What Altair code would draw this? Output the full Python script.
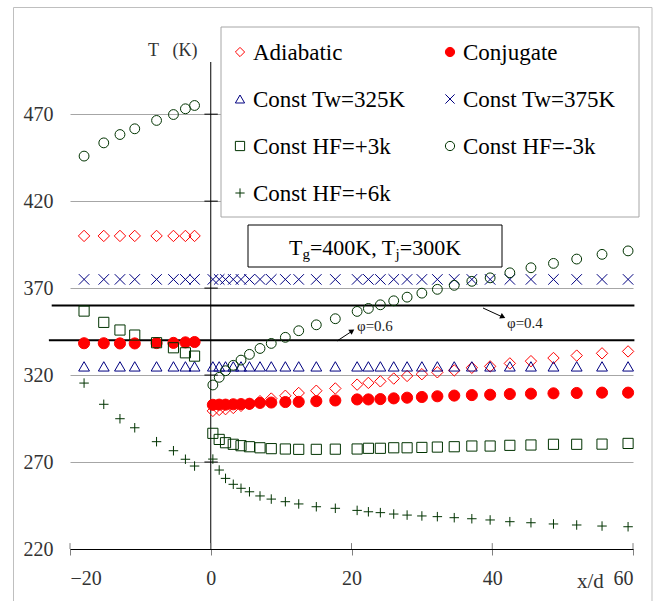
import altair as alt
import pandas as pd

# ---------------- data ----------------
series = ["Adiabatic", "Conjugate", "Const Tw=325K", "Const Tw=375K",
          "Const HF=+3k", "Const HF=-3k", "Const HF=+6k"]

up_x = [-18.0, -15.2, -12.9, -10.8, -7.7, -5.3, -3.6, -2.3]
down_x = [0.3, 1.2, 2.1, 3.2, 4.3, 5.5, 7.0, 8.6, 10.6, 12.5, 15.0, 17.7,
          20.8, 22.4, 24.1, 26.0, 27.9, 30.0, 32.2, 34.6, 37.1, 39.7, 42.5,
          45.5, 48.7, 52.0, 55.6, 59.3]

adiabatic_up = [400, 400, 400, 400, 400, 400, 400, 400]
adiabatic_down = [299.4, 300.0, 300.4, 301.1, 302.3, 303.2, 305.0, 306.5, 308.1,
                  309.7, 311.0, 312.3, 314.5, 315.5, 316.4, 318.0, 319.5, 320.5,
                  321.6, 322.7, 324.2, 325.0, 326.7, 328.0, 329.8, 331.2, 332.5, 333.6]

conjugate_up = [338.3, 338.3, 338.2, 338.2, 338.4, 338.5, 338.8, 339.0]
conjugate_down = [302.9, 303.0, 303.0, 303.2, 303.3, 303.5, 304.0, 304.2, 304.5,
                  304.6, 305.0, 305.4, 306.0, 306.0, 306.2, 306.6, 307.0, 307.4,
                  307.8, 308.2, 308.5, 308.7, 309.1, 309.3, 309.5, 309.7, 309.9, 309.9]

tw325_up = [325, 325, 325, 325, 325, 325, 325, 325]
tw325_down = [325, 325, 325, 325, 325, 325, 325, 325, 325, 325, 325, 325, 325, 325,
              325, 325, 325, 325, 325, 325, 325, 325, 325, 325, 325, 325, 325, 325]

tw375_up = [375, 375, 375, 375, 375, 375, 375, 375]
tw375_down = [375, 375, 375, 375, 375, 375, 375, 375, 375, 375, 375, 375, 375, 375,
              375, 375, 375, 375, 375, 375, 375, 375, 375, 375, 375, 375, 375, 375]

hfp3_up = [356.8, 350.3, 345.9, 343.0, 338.6, 335.7, 332.8, 330.9]
hfp3_down = [286.5, 283.0, 281.1, 280.2, 279.4, 278.8, 278.2, 277.7, 277.5, 277.3,
             277.3, 277.4, 277.5, 277.9, 277.9, 278.2, 278.2, 278.4, 278.6, 278.8,
             279.2, 279.2, 279.6, 279.8, 280.2, 280.2, 280.3, 280.7]

hfm3_up = [445.9, 453.5, 458.3, 461.6, 466.4, 469.8, 473.1, 475.0]
hfm3_down = [314.3, 318.7, 322.5, 325.6, 328.6, 331.9, 335.3, 338.2, 341.7, 345.5,
             348.9, 352.4, 356.6, 358.3, 360.4, 362.7, 364.8, 367.1, 369.3, 371.6,
             373.9, 375.9, 378.8, 381.7, 384.2, 386.7, 389.4, 391.4]

hfp6_up = [315.4, 303.2, 294.9, 289.7, 281.7, 276.5, 271.6, 267.7]
hfp6_down = [271.7, 265.4, 260.6, 257.2, 254.9, 252.9, 250.5, 248.7, 247.2, 245.9,
             244.3, 243.4, 242.2, 241.4, 240.9, 240.1, 239.5, 239.0, 238.6, 238.0,
             237.4, 236.7, 235.7, 235.1, 234.4, 233.8, 233.2, 232.8]

y_ticks = [220, 270, 320, 370, 420, 470]
x_ticks = [-20, 0, 20, 40, 60]
phi_T = [340, 360]

# ---------------- styles ----------------
RED = "#ff0000"
NAVY = "#000080"
GREEN = "#003300"
shapes = ["diamond", "circle", "triangle-up", "M-1,-1L1,1M1,-1L-1,1",
          "square", "circle", "M-1,0L1,0M0,-1L0,1"]
strokes = [RED, RED, NAVY, NAVY, GREEN, GREEN, GREEN]
fills = ["transparent", RED, "transparent", "transparent", "transparent",
         "transparent", "transparent"]
sizes = [130, 90, 144, 130, 140, 100, 121]

ups = [adiabatic_up, conjugate_up, tw325_up, tw375_up, hfp3_up, hfm3_up, hfp6_up]
downs = [adiabatic_down, conjugate_down, tw325_down, tw375_down, hfp3_down,
         hfm3_down, hfp6_down]

rows = []
for name, up, down in zip(series, ups, downs):
    for xv, tv in zip(up_x, up):
        rows.append({"series": name, "x": xv, "T": tv})
    for xv, tv in zip(down_x, down):
        rows.append({"series": name, "x": xv, "T": tv})
df = pd.DataFrame(rows)

OX, OY = 70, 62  # plot origin in page pixels
W, H = 563, 487
PXU = W / 80.0    # px per x unit
PYU = H / 280.0   # px per T unit

xs = alt.Scale(domain=[-20, 60], nice=False)
ys = alt.Scale(domain=[220, 500], nice=False)
FONT = "Liberation Serif"


def X(field):
    return alt.X(field, type="quantitative", scale=xs,
                 axis=alt.Axis(values=x_ticks, title=None, grid=False,
                               domainColor="black", tickColor="#808080",
                               tickSize=6, labelFont=FONT, labelFontSize=20,
                               labelColor="#333333", labelPadding=13))


def Y(field):
    return alt.Y(field, type="quantitative", scale=ys,
                 axis=alt.Axis(values=y_ticks, title=None, grid=True,
                               gridColor="#a6a6a6", domain=False, ticks=False,
                               labelFont=FONT, labelFontSize=20,
                               labelColor="#333333", labelPadding=17))


shape_enc = alt.Shape("series:N", scale=alt.Scale(domain=series, range=shapes), legend=None)
stroke_enc = alt.Stroke("series:N", scale=alt.Scale(domain=series, range=strokes), legend=None)
fill_enc = alt.Fill("series:N", scale=alt.Scale(domain=series, range=fills), legend=None)

one = pd.DataFrame({"k": [0]})

border = alt.Chart(one).mark_rect(fillOpacity=0, stroke="#bfbfbf", strokeWidth=1).encode(
    x=alt.value(13.5 - OX), x2=alt.value(652 - OX),
    y=alt.value(7.5 - OY), y2=alt.value(620 - OY))

vline = alt.Chart(pd.DataFrame({"x": [0], "T": [220], "T2": [500]})).mark_rule(
    color="black", strokeWidth=1).encode(x=X("x"), y=Y("T"), y2="T2")

ytick_df = pd.DataFrame({"x": [-0.9] * 5, "x2": [1.0] * 5, "T": y_ticks[1:]})
yticks = alt.Chart(ytick_df).mark_rule(color="black", strokeWidth=1).encode(
    x=X("x"), x2="x2", y=Y("T"))

xtick_df = pd.DataFrame({"x": x_ticks, "T": [220] * 5, "T2": [223.4] * 5})
xticks = alt.Chart(xtick_df).mark_rule(color="#808080", strokeWidth=1).encode(
    x=X("x"), y=Y("T"), y2="T2")

phi_df = pd.DataFrame({"x": [-23.0, -22.6], "x2": [60.2, 60.2], "T": phi_T})
phis = alt.Chart(phi_df).mark_rule(color="black", strokeWidth=2).encode(
    x=X("x"), x2="x2", y=Y("T"))

points = alt.Chart(df).mark_point(opacity=1, strokeWidth=1).encode(
    x=X("x"), y=Y("T"),
    shape=shape_enc, stroke=stroke_enc, fill=fill_enc,
    size=alt.Size("series:N", scale=alt.Scale(domain=series, range=sizes), legend=None),
)

# ---------------- legend (two columns, row-major) ----------------
leg_box = alt.Chart(one).mark_rect(fill="white", stroke="#a6a6a6", strokeWidth=1).encode(
    x=alt.value(221 - OX), x2=alt.value(639 - OX),
    y=alt.value(27 - OY), y2=alt.value(217 - OY))

leg_base = alt.Chart(pd.DataFrame({"series": series, "k": list(range(len(series)))})).transform_calculate(
    lx=f"-20 + ({240 - OX} + (datum.k % 2) * 210) / {PXU}",
    lT=f"500 - ({52 - OY} + floor(datum.k / 2) * 47) / {PYU}",
)
leg_sym = leg_base.mark_point(opacity=1, strokeWidth=1, size=85).encode(
    x=X("lx"), y=Y("lT"), shape=shape_enc, stroke=stroke_enc, fill=fill_enc)
leg_txt = leg_base.mark_text(align="left", baseline="alphabetic", dx=13, dy=8,
                             font=FONT, fontSize=23, color="black").encode(
    x=X("lx"), y=Y("lT"), text="series:N")

box = alt.Chart(one).mark_rect(fill="white", stroke="black", strokeWidth=1).encode(
    x=alt.value(248 - OX), x2=alt.value(502 - OX),
    y=alt.value(225 - OY), y2=alt.value(267 - OY))


def txt(s, px, py, size, color="black", align="left"):
    return alt.Chart(one).mark_text(text=s, font=FONT, fontSize=size, color=color,
                                    align=align, baseline="alphabetic").encode(
        x=alt.value(px - OX), y=alt.value(py - OY))


texts = [
    txt("T", 289, 255, 22),
    txt("g", 302.4, 258.5, 15),
    txt("=400K, T", 309.9, 255, 22),
    txt("j", 395.6, 258.5, 15),
    txt("=300K", 399.8, 255, 22),
    txt("φ=0.6", 357, 331, 15, "#222222"),
    txt("φ=0.4", 507, 328, 15, "#222222"),
    txt("T\u00a0\u00a0\u00a0(K)", 148, 56, 18, "#333333"),
    txt("x/d", 577, 588, 21, "#333333"),
]


def arrow(x1, y1, x2, y2, cx, cy, ang):
    line = alt.Chart(one).mark_rule(color="black", strokeWidth=1).encode(
        x=alt.value(x1 - OX), y=alt.value(y1 - OY),
        x2=alt.value(x2 - OX), y2=alt.value(y2 - OY))
    head = alt.Chart(one).mark_point(shape="triangle-up", filled=True, opacity=1,
                                     color="black", size=36, angle=ang).encode(
        x=alt.value(cx - OX), y=alt.value(cy - OY))
    return [line, head]


arrows = arrow(337, 341, 353, 330.5, 352.1, 330.9, 56) + \
    arrow(483, 308, 503, 317.2, 502.9, 316.9, 114.5)

chart = alt.layer(border, vline, yticks, xticks, phis, points, box, *texts, *arrows,
                  leg_box, leg_sym, leg_txt).properties(
    width=W, height=H,
    padding={"left": OX, "top": OY, "right": 655 - OX - W, "bottom": 601 - OY - H},
    autosize=alt.AutoSizeParams(type="none"),
).configure_view(strokeWidth=0)

chart.save("out.html", embed_options={"renderer": "svg", "actions": False})
